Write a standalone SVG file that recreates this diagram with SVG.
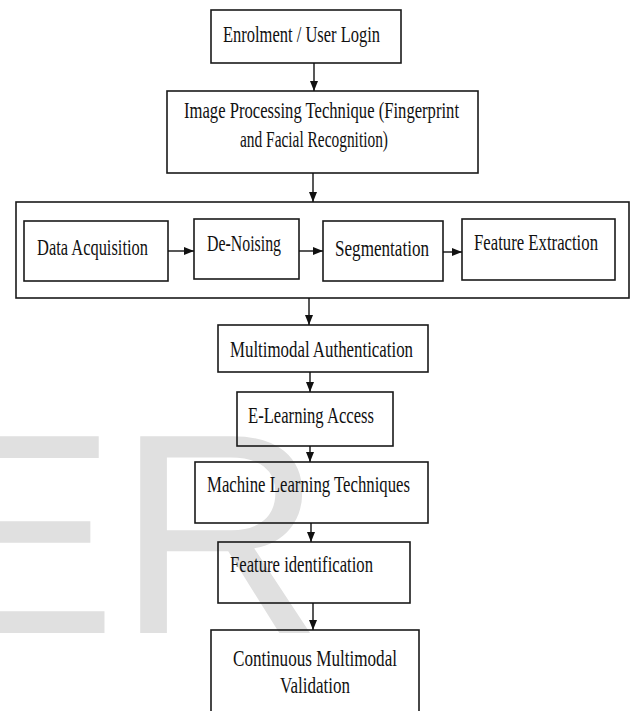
<svg xmlns="http://www.w3.org/2000/svg" width="631" height="711" viewBox="0 0 631 711">
<style>
.box{fill:none;stroke:#1a1a1a;stroke-width:1.6}
.t{font-family:"Liberation Serif","Times New Roman",serif;font-size:22.5px;fill:#111}
.wm{font-family:"Liberation Sans",Arial,sans-serif;font-size:286px;fill:#e0e0e0}
.c{stroke:#111;stroke-width:1.4;fill:none;marker-end:url(#ah)}
</style>
<defs>
<marker id="ah" markerUnits="userSpaceOnUse" markerWidth="10" markerHeight="8" refX="10" refY="4" orient="auto">
<path d="M0,0 L10,4 L0,8 z" fill="#111"/>
</marker>
</defs>
<rect width="631" height="711" fill="#fff"/>
<text class="wm" x="-74" y="633">ER</text>
<g id="n1"><rect class="box" x="211" y="10" width="190" height="53"/><text class="t" x="223" y="42" textLength="157" lengthAdjust="spacingAndGlyphs">Enrolment / User Login</text></g>
<g id="n2"><rect class="box" x="167" y="91" width="311" height="82"/><text class="t" x="184" y="118" textLength="275" lengthAdjust="spacingAndGlyphs">Image Processing Technique (Fingerprint</text><text class="t" x="240" y="147" textLength="148" lengthAdjust="spacingAndGlyphs">and Facial Recognition)</text></g>
<g id="n3"><rect class="box" x="16" y="202" width="613" height="96"/></g>
<g id="n3a"><rect class="box" x="24" y="221" width="144" height="60"/><text class="t" x="37" y="255" textLength="111" lengthAdjust="spacingAndGlyphs">Data Acquisition</text></g>
<g id="n3b"><rect class="box" x="194" y="219" width="105" height="60"/><text class="t" x="207" y="251" textLength="74" lengthAdjust="spacingAndGlyphs">De-Noising</text></g>
<g id="n3c"><rect class="box" x="323" y="221" width="120" height="60"/><text class="t" x="335" y="256" textLength="94" lengthAdjust="spacingAndGlyphs">Segmentation</text></g>
<g id="n3d"><rect class="box" x="462" y="219" width="153" height="61"/><text class="t" x="474" y="250" textLength="124" lengthAdjust="spacingAndGlyphs">Feature Extraction</text></g>
<g id="n4"><rect class="box" x="218" y="325" width="210" height="47"/><text class="t" x="230" y="357" textLength="183" lengthAdjust="spacingAndGlyphs">Multimodal Authentication</text></g>
<g id="n5"><rect class="box" x="237" y="392" width="156" height="54"/><text class="t" x="248" y="423" textLength="126" lengthAdjust="spacingAndGlyphs">E-Learning Access</text></g>
<g id="n6"><rect class="box" x="195" y="462" width="233" height="61"/><text class="t" x="207" y="492" textLength="203" lengthAdjust="spacingAndGlyphs">Machine Learning Techniques</text></g>
<g id="n7"><rect class="box" x="218" y="542" width="192" height="61"/><text class="t" x="230" y="572" textLength="143" lengthAdjust="spacingAndGlyphs">Feature identification</text></g>
<g id="n8"><rect class="box" x="211" y="630" width="208" height="95"/><text class="t" x="233" y="666" textLength="164" lengthAdjust="spacingAndGlyphs">Continuous Multimodal</text><text class="t" x="280" y="693" textLength="70" lengthAdjust="spacingAndGlyphs">Validation</text></g>
<g id="connectors">
<line class="c" x1="314" y1="63" x2="314" y2="91"/>
<line class="c" x1="313" y1="173" x2="313" y2="202"/>
<line class="c" x1="168" y1="251" x2="194" y2="251"/>
<line class="c" x1="299" y1="251" x2="323" y2="251"/>
<line class="c" x1="443" y1="252" x2="462" y2="252"/>
<line class="c" x1="309" y1="298" x2="309" y2="325"/>
<line class="c" x1="310" y1="372" x2="310" y2="392"/>
<line class="c" x1="310" y1="446" x2="310" y2="462"/>
<line class="c" x1="311" y1="523" x2="311" y2="542"/>
<line class="c" x1="313" y1="603" x2="313" y2="630"/>
</g>
</svg>
